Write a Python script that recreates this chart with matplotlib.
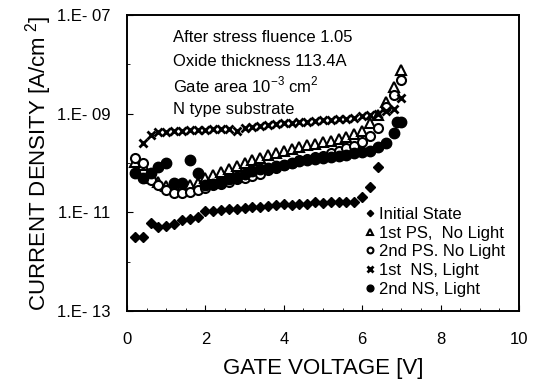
import numpy as np
import matplotlib
matplotlib.use("Agg")
import matplotlib.pyplot as plt

plt.rcParams["font.family"] = ["Liberation Sans", "DejaVu Sans"]
plt.rcParams["mathtext.fontset"] = "custom"
plt.rcParams["mathtext.rm"] = "Liberation Sans"

# datos (exponentes log10 de la densidad de corriente)
v_inicial = [0.2, 0.4, 0.6, 0.8, 1.0, 1.2, 1.4, 1.6, 1.8, 2.0, 2.2, 2.4, 2.6, 2.8, 3.0, 3.2,
             3.4, 3.6, 3.8, 4.0, 4.2, 4.4, 4.6, 4.8, 5.0, 5.2, 5.4, 5.6, 5.8, 6.0, 6.2, 6.4]
log_inicial = [-11.50, -11.50, -11.22, -11.30, -11.28, -11.24, -11.16, -11.13, -11.10, -10.97,
               -10.97, -10.95, -10.94, -10.93, -10.92, -10.90, -10.89, -10.88, -10.86, -10.84,
               -10.86, -10.83, -10.84, -10.80, -10.81, -10.79, -10.80, -10.79, -10.80, -10.68,
               -10.48, -10.08]

v_ps1 = [0.2, 0.4, 0.6, 0.8, 1.0, 1.2, 1.4, 1.6, 1.8, 2.0, 2.2, 2.4, 2.6, 2.8, 3.0, 3.2, 3.4, 3.6,
         3.8, 4.0, 4.2, 4.4, 4.6, 4.8, 5.0, 5.2, 5.4, 5.6, 5.8, 6.0, 6.2, 6.4, 6.6, 6.8, 7.0]
log_ps1 = [-9.98, -10.05, -10.30, -10.39, -10.47, -10.50, -10.48, -10.45, -10.40, -10.30, -10.25,
           -10.18, -10.12, -10.06, -10.00, -9.95, -9.90, -9.84, -9.80, -9.76, -9.72, -9.68, -9.64,
           -9.62, -9.58, -9.55, -9.52, -9.48, -9.42, -9.36, -9.20, -9.03, -8.76, -8.46, -8.12]

v_ps2 = [0.2, 0.4, 0.6, 0.8, 1.0, 1.2, 1.4, 1.6, 1.8, 2.0, 2.2, 2.4, 2.6, 2.8, 3.0, 3.2, 3.4, 3.6,
         3.8, 4.0, 4.2, 4.4, 4.6, 4.8, 5.0, 5.2, 5.4, 5.6, 5.8, 6.0, 6.2, 6.4, 6.6, 6.8, 7.0]
log_ps2 = [-9.90, -10.00, -10.35, -10.45, -10.55, -10.60, -10.60, -10.58, -10.55, -10.50, -10.45,
           -10.42, -10.38, -10.33, -10.30, -10.27, -10.22, -10.15, -10.10, -10.05, -10.00, -9.95,
           -9.92, -9.88, -9.85, -9.80, -9.75, -9.70, -9.65, -9.58, -9.45, -9.30, -8.87, -8.62, -8.32]

v_ns1 = [0.4, 0.6, 0.8, 1.0, 1.2, 1.4, 1.6, 1.8, 2.0, 2.2, 2.4, 2.6, 2.8, 3.0, 3.2, 3.4, 3.6, 3.8,
         4.0, 4.2, 4.4, 4.6, 4.8, 5.0, 5.2, 5.4, 5.6, 5.8, 6.0, 6.2, 6.4, 6.6, 6.8, 7.0]
log_ns1 = [-9.60, -9.43, -9.37, -9.37, -9.36, -9.36, -9.34, -9.33, -9.33, -9.32, -9.31, -9.31,
           -9.36, -9.30, -9.28, -9.26, -9.24, -9.22, -9.20, -9.19, -9.17, -9.16, -9.15, -9.13,
           -9.12, -9.11, -9.10, -9.08, -9.05, -9.03, -9.00, -8.95, -8.91, -8.69]

v_ns2 = [0.2, 0.4, 0.6, 0.8, 1.0, 1.2, 1.4, 1.6, 1.8, 2.0, 2.2, 2.4, 2.6, 2.8, 3.0, 3.2, 3.4, 3.6,
         3.8, 4.0, 4.2, 4.4, 4.6, 4.8, 5.0, 5.2, 5.4, 5.6, 5.8, 6.0, 6.2, 6.4, 6.6, 6.8, 6.9, 7.0]
log_ns2 = [-10.20, -10.30, -10.20, -10.08, -10.00, -10.40, -10.40, -9.94, -10.20, -10.45, -10.42,
           -10.38, -10.33, -10.28, -10.22, -10.17, -10.13, -10.10, -10.07, -10.04, -10.00, -9.97,
           -9.95, -9.92, -9.90, -9.87, -9.85, -9.83, -9.80, -9.78, -9.76, -9.68, -9.60, -9.39,
           -9.17, -9.17]

etiquetas_y = ["1.E- 13", "1.E- 11", "1.E- 09", "1.E- 07"]
ticks_x = [0, 2, 4, 6, 8, 10]

fig = plt.figure(figsize=(5.35, 3.83), dpi=100)
ax = fig.add_axes([0.2374, 0.188, 0.7326, 0.773])

ax.plot(v_inicial, 10.0 ** np.array(log_inicial), "D", color="black", ms=5, ls="none",
        label="Initial State")
ax.plot(v_ps1, 10.0 ** np.array(log_ps1), "^", mfc="white", mec="black", mew=1.5, ms=6.5,
        ls="none", label="1st PS,  No Light")
ax.plot(v_ps2, 10.0 ** np.array(log_ps2), "o", mfc="white", mec="black", mew=1.5, ms=6.5,
        ls="none", label="2nd PS. No Light")
ax.plot(v_ns1, 10.0 ** np.array(log_ns1), "x", color="black", mew=2, ms=6,
        ls="none", label="1st  NS, Light")
ax.plot(v_ns2, 10.0 ** np.array(log_ns2), "o", color="black", ms=7.5,
        ls="none", label="2nd NS, Light")

ax.set_yscale("log")
ax.set_ylim(1e-13, 1e-7)
ax.set_xlim(0, 10)
ax.set_yticks([1e-13, 1e-11, 1e-9, 1e-7])
ax.set_yticklabels(etiquetas_y)
ax.yaxis.set_minor_locator(matplotlib.ticker.LogLocator(base=10, subs=[1.0], numticks=20))
ax.yaxis.set_minor_formatter(matplotlib.ticker.NullFormatter())
ax.set_xticks(ticks_x)
ax.set_xticks(np.arange(0, 10.01, 0.5), minor=True)
ax.tick_params(axis="both", which="major", direction="in", length=4, labelsize=12)
ax.tick_params(axis="x", which="major", pad=15)
ax.tick_params(axis="y", which="major", pad=12)
ax.tick_params(axis="both", which="minor", direction="in", length=2)
for lado in ax.spines.values():
    lado.set_linewidth(1.4)

ax.set_xlabel("GATE VOLTAGE [V]", fontsize=16, labelpad=8)
ax.set_ylabel("CURRENT DENSITY [A/cm$^{\\ 2}$]", fontsize=16, labelpad=2)

textos = ["After stress fluence 1.05", "Oxide thickness 113.4A",
          "Gate area 10$^{-3}$ cm$^{2}$", "N type substrate"]
for i, t in enumerate(textos):
    ax.text(0.118, 0.925 - i * 0.081, t, transform=ax.transAxes, fontsize=12, va="center")

ax.legend(loc="lower right", bbox_to_anchor=(0.99, 0.015), frameon=False, fontsize=12,
          handletextpad=0.1, handlelength=0.9, labelspacing=0.22, borderaxespad=0.2,
          markerscale=0.65)

fig.savefig("out.png", dpi=100)
